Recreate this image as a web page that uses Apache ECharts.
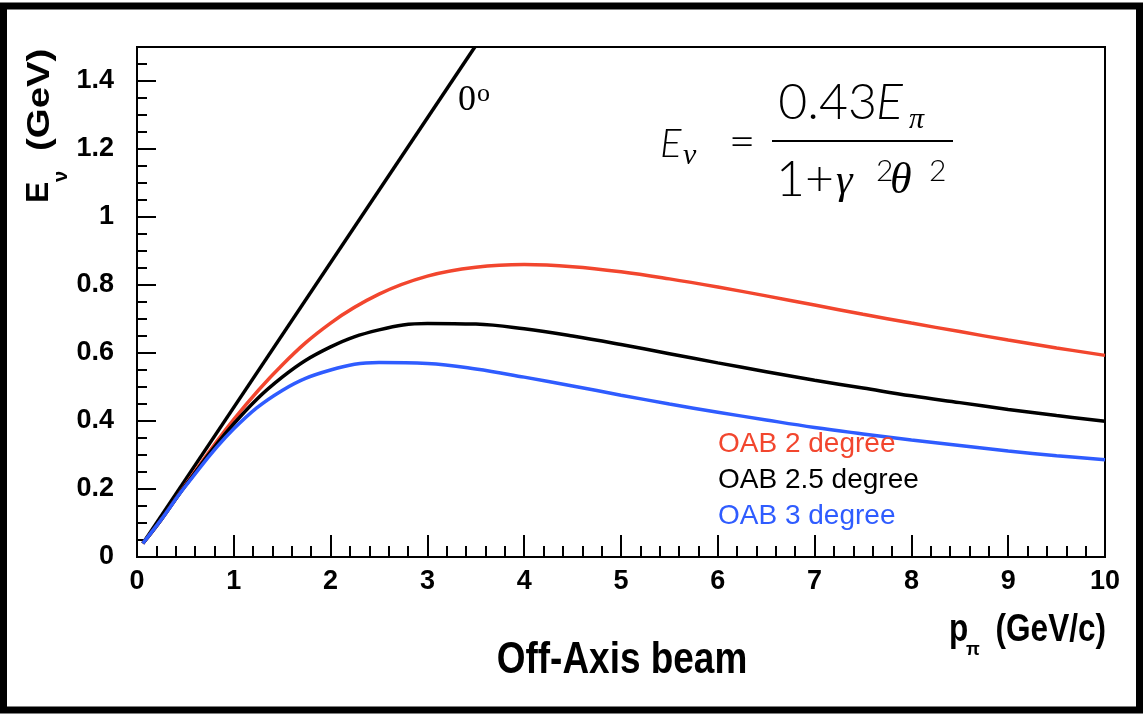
<!DOCTYPE html>
<html>
<head>
<meta charset="utf-8">
<title>Off-Axis beam</title>
<script src="https://cdn.jsdelivr.net/npm/echarts@6/dist/echarts.min.js"></script>
<style>
    html, body { margin: 0; padding: 0; background: #fff; }
    #chart { width: 1143px; height: 714px; }
</style>
</head>
<body>
<div id="chart"></div>
<script>
// pion momentum (GeV/c) where the curves were read
const pPion = [0.06, 0.25, 0.5, 1, 1.5, 2, 2.5, 3, 3.5, 4, 4.5, 5, 5.5, 6, 6.5, 7, 7.5, 8, 8.5, 9, 9.5, 10]
// neutrino energy (GeV)
const oab2 = [0.04, 0.11, 0.212, 0.405, 0.565, 0.688, 0.773, 0.826, 0.852, 0.86, 0.854, 0.839, 0.818, 0.794, 0.768, 0.741, 0.714, 0.688, 0.663, 0.638, 0.615, 0.593]
const oab25 = [0.04, 0.11, 0.21, 0.392, 0.529, 0.618, 0.668, 0.687, 0.685, 0.671, 0.65, 0.625, 0.598, 0.571, 0.545, 0.52, 0.497, 0.474, 0.454, 0.434, 0.416, 0.399]
const oab3 = [0.04, 0.11, 0.208, 0.377, 0.49, 0.55, 0.572, 0.569, 0.553, 0.529, 0.503, 0.476, 0.45, 0.426, 0.403, 0.381, 0.362, 0.344, 0.328, 0.312, 0.298, 0.286]
// on-axis (0 degree) straight line
const onAxisP = [0.06, 3.49]
const onAxisE = [0.04, 1.5]

const seriesNames = ['OAB 2 degree', 'OAB 2.5 degree', 'OAB 3 degree']
const seriesColors = ['#f2462e', '#000000', '#2f5cff']

const pairs = (xs, ys) => xs.map((x, i) => [x, ys[i]])

const labelFont = { color: '#000', fontFamily: 'Liberation Sans', fontWeight: 'bold', fontSize: 27 }
const black = '#000'

const chart = echarts.init(document.getElementById('chart'))

const curve = (name, data, color) => ({
    name: name,
    type: 'line',
    data: data,
    smooth: 0.4,
    showSymbol: false,
    symbol: 'none',
    lineStyle: { color: color, width: 3.5 },
    itemStyle: { color: color },
    yAxisIndex: 0
})

const option = {
    animation: false,
    backgroundColor: '#fff',
    grid: {
        left: 137,
        right: 38,
        top: 47,
        bottom: 157,
        show: true,
        borderColor: black,
        borderWidth: 2,
        backgroundColor: 'transparent',
        outerBoundsMode: 'none'
    },
    legend: {
        data: seriesNames.map((n, i) => ({ name: n, textStyle: { color: seriesColors[i] } })),
        orient: 'vertical',
        left: 708,
        top: 421,
        icon: 'none',
        itemWidth: 0,
        itemHeight: 0,
        itemGap: 0,
        selectedMode: false,
        textStyle: { fontFamily: 'Liberation Sans', fontSize: 28, lineHeight: 36 }
    },
    xAxis: {
        type: 'value',
        min: 0,
        max: 10,
        interval: 1,
        axisLine: { onZero: false, lineStyle: { color: black, width: 2 } },
        axisTick: { inside: true, length: 22, lineStyle: { color: black, width: 2 } },
        minorTick: { show: true, splitNumber: 5, length: 11, lineStyle: { color: black, width: 2 } },
        splitLine: { show: false },
        axisLabel: Object.assign({ margin: 11 }, labelFont)
    },
    yAxis: [
        {
            type: 'value',
            min: 0,
            max: 1.5,
            interval: 0.2,
            position: 'left',
            axisLine: { show: true, onZero: false, lineStyle: { color: black, width: 2 } },
            axisTick: { show: true, inside: true, length: 19, lineStyle: { color: black, width: 2 } },
            splitLine: { show: false },
            axisLabel: Object.assign({ margin: 23, showMaxLabel: false }, labelFont)
        },
        {
            type: 'value',
            min: 0,
            max: 1.5,
            interval: 0.05,
            position: 'left',
            offset: 0,
            axisLine: { show: false },
            axisTick: { show: true, inside: true, length: 10, lineStyle: { color: black, width: 2 } },
            splitLine: { show: false },
            axisLabel: { show: false }
        }
    ],
    series: [
        curve('0 degree', pairs(onAxisP, onAxisE), black),
        curve(seriesNames[0], pairs(pPion, oab2), seriesColors[0]),
        curve(seriesNames[1], pairs(pPion, oab25), seriesColors[1]),
        curve(seriesNames[2], pairs(pPion, oab3), seriesColors[2])
    ],
    graphic: [
        // outer frame of the slide
        { type: 'rect', shape: { x: 3.5, y: 6, width: 1136, height: 704 }, style: { fill: 'none', stroke: black, lineWidth: 7 }, silent: true },
        // 0 degree tag
        { type: 'text', x: 458, y: 101, style: { text: '0', font: '36px "Liberation Serif"', fill: black, textAlign: 'left', textVerticalAlign: 'middle' } },
        { type: 'text', x: 477, y: 94, style: { text: 'o', font: '26px "Liberation Serif"', fill: black, textAlign: 'left', textVerticalAlign: 'middle' } },
        // formula E_nu = 0.43 E_pi / (1 + gamma^2 theta^2)
        { type: 'text', x: 660, y: 144, style: { text: 'E', font: 'italic 300 40px Lato', fill: black, textAlign: 'left', textVerticalAlign: 'middle' } },
        { type: 'text', x: 683, y: 156, style: { text: 'ν', font: 'italic 30px "Liberation Serif"', fill: black, textAlign: 'left', textVerticalAlign: 'middle' } },
        { type: 'text', x: 742, y: 142, style: { text: '=', font: '300 46px Lato', fill: black, textAlign: 'center', textVerticalAlign: 'middle' } },
        { type: 'text', x: 877, y: 103, style: { text: '0.43', font: '300 50px Lato', fill: black, textAlign: 'right', textVerticalAlign: 'middle' } },
        { type: 'text', x: 876, y: 103, style: { text: 'E', font: 'italic 300 50px Lato', fill: black, textAlign: 'left', textVerticalAlign: 'middle' } },
        { type: 'text', x: 909, y: 120, style: { text: 'π', font: 'italic 30px "Liberation Serif"', fill: black, textAlign: 'left', textVerticalAlign: 'middle' } },
        { type: 'line', shape: { x1: 772, y1: 141, x2: 953, y2: 141 }, style: { stroke: black, lineWidth: 2 } },
        { type: 'text', x: 776, y: 180, style: { text: '1+', font: '300 50px Lato', fill: black, textAlign: 'left', textVerticalAlign: 'middle' } },
        { type: 'text', x: 836, y: 182, style: { text: 'γ', font: 'italic 42px "Liberation Serif"', fill: black, textAlign: 'left', textVerticalAlign: 'middle' } },
        { type: 'text', x: 876, y: 171, style: { text: '2', font: '300 30px Lato', fill: black, textAlign: 'left', textVerticalAlign: 'middle' } },
        { type: 'text', x: 890, y: 181, style: { text: 'θ', font: 'italic 44px "Liberation Serif"', fill: black, textAlign: 'left', textVerticalAlign: 'middle' } },
        { type: 'text', x: 929, y: 171, style: { text: '2', font: '300 30px Lato', fill: black, textAlign: 'left', textVerticalAlign: 'middle' } },
        // y axis title, reads bottom to top
        {
            type: 'group',
            x: 39,
            y: 203,
            rotation: Math.PI / 2,
            children: [
                { type: 'text', x: 0, y: 0, style: { text: 'E', font: 'bold 32px "Liberation Sans"', fill: black, textAlign: 'left', textVerticalAlign: 'middle' } },
                { type: 'text', x: 21, y: 22, style: { text: 'ν', font: 'bold 20px "Liberation Sans"', fill: black, textAlign: 'left', textVerticalAlign: 'middle' } },
                { type: 'text', x: 52, y: 1, scaleX: 1.2, style: { text: '(GeV)', font: 'bold 32px "Liberation Sans"', fill: black, textAlign: 'left', textVerticalAlign: 'middle' } }
            ]
        },
        // x axis title
        { type: 'text', x: 949, y: 631, scaleX: 0.83, style: { text: 'p', font: 'bold 38px "Liberation Sans"', fill: black, textAlign: 'left', textVerticalAlign: 'middle' } },
        { type: 'text', x: 966, y: 650, style: { text: 'π', font: 'bold 18px "Liberation Sans"', fill: black, textAlign: 'left', textVerticalAlign: 'middle' } },
        { type: 'text', x: 1106, y: 631, scaleX: 0.83, style: { text: '(GeV/c)', font: 'bold 38px "Liberation Sans"', fill: black, textAlign: 'right', textVerticalAlign: 'middle' } },
        // caption under the plot
        { type: 'text', x: 622, y: 661, scaleX: 0.84, style: { text: 'Off-Axis beam', font: 'bold 44px "Liberation Sans"', fill: black, textAlign: 'center', textVerticalAlign: 'middle' } }
    ]
}

chart.setOption(option)
</script>
</body>
</html>
